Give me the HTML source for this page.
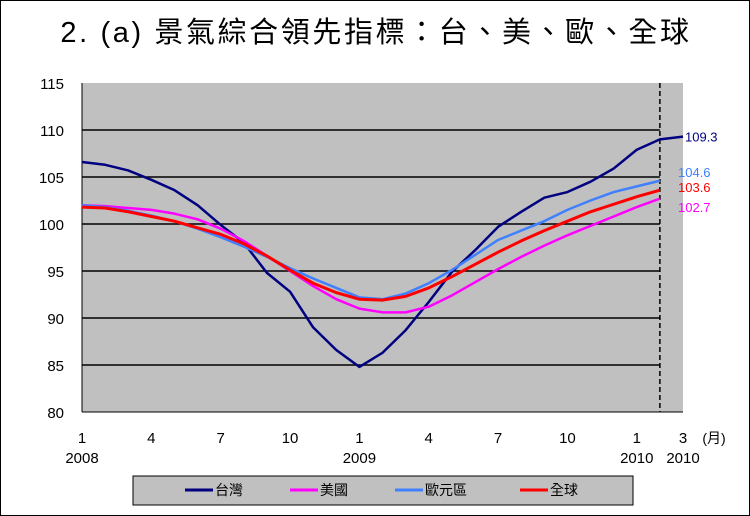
<!DOCTYPE html>
<html><head><meta charset="utf-8"><style>
body{margin:0;background:#fff;}
svg{display:block;font-family:"Liberation Sans","Noto Sans CJK TC",sans-serif;}
</style></head><body>
<svg id="c" width="750" height="516" viewBox="0 0 750 516">
<rect x="0.5" y="0.5" width="749" height="515" fill="#fff" stroke="#000"/>
<text x="376" y="42" text-anchor="middle" font-size="29" letter-spacing="2.6" fill="#000" font-family="Liberation Sans,Noto Sans CJK TC,sans-serif">2. (a)  景氣綜合領先指標：台、美、歐、全球</text>
<rect x="82" y="83" width="601" height="329" fill="#c0c0c0"/>
<g id="grid"></g><g id="series"></g><g id="labels"></g>
<rect x="133" y="476" width="500" height="29" fill="#c0c0c0" stroke="#000"/>
<g id="legend"></g>
</svg>
<script>
const months=["1","4","7","10","1","4","7","10","1","3"];
const monthIdx=[0,3,6,9,12,15,18,21,24,26];
const years=["2008","2009","2010","2010"];
const yearIdx=[0,12,24,26];
const yTicks=[80,85,90,95,100,105,110,115];
const names=["台灣","美國","歐元區","全球"];
const colors=["#000080","#ff00ff","#4080ff","#ff0000"];
const taiwan=[106.6,106.3,105.7,104.7,103.6,102.0,99.9,98.0,94.8,92.8,89.0,86.6,84.8,86.3,88.7,91.7,94.9,97.2,99.7,101.3,102.8,103.4,104.5,105.9,107.9,109.0,109.3];
const us=[102.0,101.9,101.7,101.5,101.1,100.5,99.5,98.2,96.6,95.0,93.4,92.0,91.0,90.6,90.6,91.2,92.4,93.8,95.2,96.5,97.7,98.8,99.8,100.8,101.8,102.7];
const euro=[102.0,101.8,101.4,100.9,100.3,99.5,98.6,97.6,96.5,95.3,94.2,93.2,92.2,92.0,92.6,93.7,95.1,96.7,98.3,99.3,100.3,101.5,102.5,103.4,104.0,104.6];
const world=[101.8,101.7,101.3,100.8,100.3,99.6,98.9,97.9,96.6,95.1,93.7,92.7,92.0,91.9,92.3,93.2,94.4,95.7,97.0,98.2,99.3,100.3,101.3,102.1,102.9,103.6];
const series=[taiwan,us,euro,world];
const endLabels=["109.3","104.6","103.6","102.7"];
const endLabelSeries=[0,2,3,1];
const NS="http://www.w3.org/2000/svg";
const X=i=>82+i*(601/26);
const Y=v=>412-(v-80)*(329/35);
function mk(t,a,p,txt){const e=document.createElementNS(NS,t);for(const k in a)e.setAttribute(k,a[k]);if(txt!==undefined)e.textContent=txt;p.appendChild(e);return e;}
const g=document.getElementById('grid'),s=document.getElementById('series'),lb=document.getElementById('labels'),lg=document.getElementById('legend');
yTicks.forEach(v=>{
 if(v>80&&v<115){const l=mk('line',{x1:82,x2:X(25),y1:Y(v),y2:Y(v),stroke:'#000','stroke-width':1.5},g);
 
 }
 const t=mk('text',{x:64,y:Y(v)+6,'text-anchor':'end','font-size':15},lb,String(v));
 
 
});
const ax=mk('line',{x1:82,x2:82,y1:83,y2:412,stroke:'#000','stroke-width':1},g);


const bx=mk('line',{x1:82,x2:683,y1:412,y2:412,stroke:'#000','stroke-width':1},g);


const dl=mk('line',{x1:X(25),x2:X(25),y1:83,y2:412,stroke:'#000','stroke-width':1.5,'stroke-dasharray':'5,3'},g);


months.forEach((m,i)=>{const t=mk('text',{x:X(monthIdx[i]),y:443,'text-anchor':'middle','font-size':15},lb,m);
 
 });
years.forEach((y,i)=>{const t=mk('text',{x:X(yearIdx[i]),y:463,'text-anchor':'middle','font-size':15},lb,y);
 
 });
const mu=mk('text',{x:714,y:443,'text-anchor':'middle','font-size':14},lb,'(月)');


series.forEach((d,k)=>{
 const p=mk('polyline',{points:d.map((v,i)=>X(i)+','+Y(v)).join(' '),fill:'none',stroke:colors[k],'stroke-width':k==3?3:2.5,'stroke-linejoin':'round'},s);
 
 
});
const lx=[685,678,678,678];
endLabels.forEach((t,i)=>{const k=endLabelSeries[i],d=series[k];
 let yy=i==0?Y(d[d.length-1])+5:(i==1?177:(i==2?192:212));
 const e=mk('text',{x:lx[i],y:yy,'font-size':13,fill:colors[k]},lb,t);
 
 });
const legX=[185,290,395,520];
names.forEach((n,k)=>{
 const l=mk('line',{x1:legX[k],x2:legX[k]+28,y1:490,y2:490,stroke:colors[k],'stroke-width':3},lg);
 
 
 const t=mk('text',{x:legX[k]+30,y:495,'font-size':14},lg,n);
 
 
});
</script>
</body></html>
